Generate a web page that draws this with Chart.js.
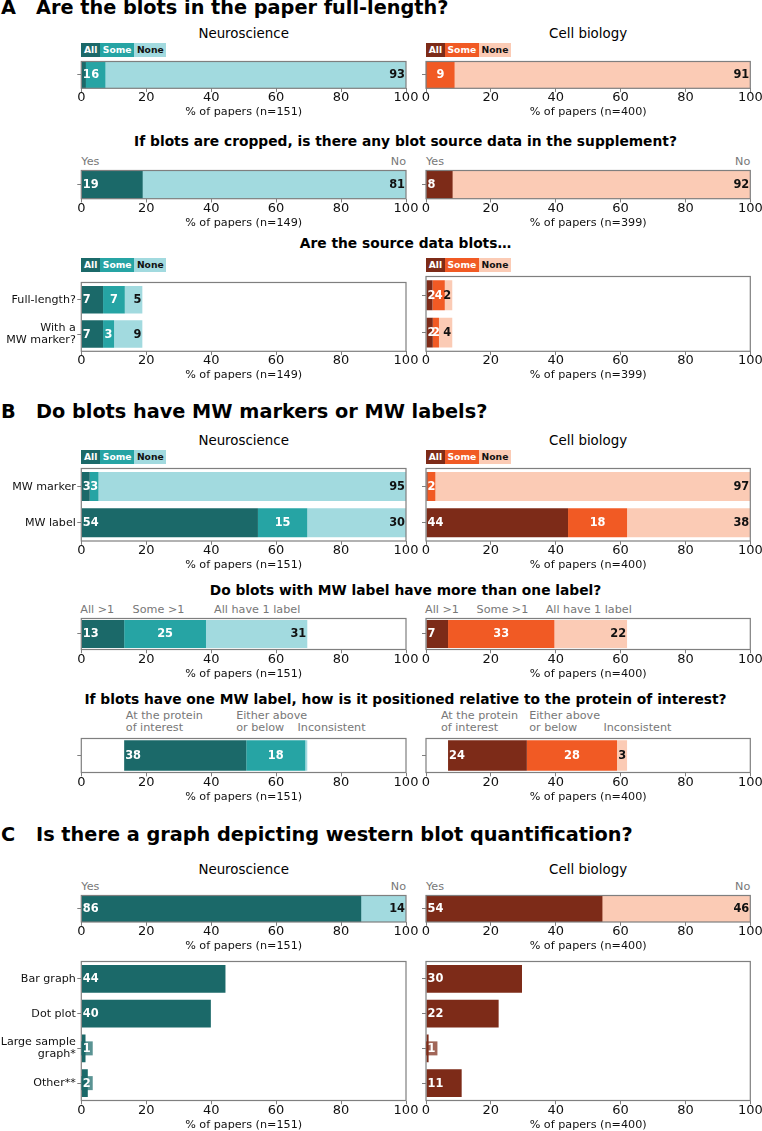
<!DOCTYPE html>
<html><head><meta charset="utf-8">
<script src="https://cdn.jsdelivr.net/npm/chart.js@4.4.1/dist/chart.umd.min.js"></script>
<style>
html,body{margin:0;padding:0;background:#fff;}
#page{position:relative;width:762px;height:1131px;overflow:hidden;font-family:"DejaVu Sans",sans-serif;}
.t{position:absolute;white-space:pre;line-height:1;}
canvas{position:absolute;}
.lg{position:absolute;display:flex;height:14.4px;}
.lg span{display:block;font-weight:bold;font-size:9.2px;line-height:14.4px;padding:0 2.7px;}
</style></head><body><div id="page"></div>
<script>
// ================= DATA =================
const groups = ['Neuroscience', 'Cell biology'];
const panelLetters = ['A', 'B', 'C'];
const panelTitles = ['Are the blots in the paper full-length?', 'Do blots have MW markers or MW labels?', 'Is there a graph depicting western blot quantification?'];
const subtitles = ['If blots are cropped, is there any blot source data in the supplement?', 'Are the source data blots\u2026', 'Do blots with MW label have more than one label?', 'If blots have one MW label, how is it positioned relative to the protein of interest?'];
const allSomeNone = ['All', 'Some', 'None'];
const yesNo = ['Yes', 'No'];
const labelCountCats = ['All >1', 'Some >1', 'All have 1 label'];
const labelPosCats = ['At the protein\nof interest', 'Either above\nor below', 'Inconsistent'];
const sourceRows = ['Full-length?', ['With a', 'MW marker?']];
const mwRows = ['MW marker', 'MW label'];
const graphTypes = ['Bar graph', 'Dot plot', ['Large sample', 'graph*'], 'Other**'];
const xTicks = [0, 20, 40, 60, 80, 100];
const nNeuro = [151, 149, 149, 151, 151, 151, 151, 151];
const nCell = [400, 399, 399, 400, 400, 400, 400, 400];

// Panel A
const neuroFullLength = [1.3, 6.0, 92.7];
const cellFullLength  = [0, 8.7, 91.3];
const neuroSupplement = [18.8, 81.2];
const cellSupplement  = [8.1, 91.9];
const neuroSourceAll  = [6.7, 6.7];
const neuroSourceSome = [6.7, 3.4];
const neuroSourceNone = [5.4, 8.7];
const cellSourceAll   = [2.0, 2.1];
const cellSourceSome  = [3.8, 1.9];
const cellSourceNone  = [2.3, 4.1];
// Panel B
const neuroMwAll  = [2.6, 54.4];
const neuroMwSome = [2.7, 15.2];
const neuroMwNone = [94.7, 30.4];
const cellMwAll   = [0.5, 43.8];
const cellMwSome  = [2.4, 18.2];
const cellMwNone  = [97.1, 38.0];
const neuroLabelCount = [13.2, 25.2, 31.2];
const cellLabelCount  = [6.8, 32.8, 22.4];
const neuroLabelPos = [37.6, 18.2, 0.6];
const cellLabelPos  = [24.3, 27.8, 3.1];
// Panel C
const neuroQuant = [86.1, 13.9];
const cellQuant  = [54.3, 45.7];
const neuroGraphType = [44.4, 39.9, 1.3, 2.0];
const cellGraphType  = [29.6, 22.4, 0.8, 11.0];

// annotation x positions (in % units)
const countLabelX = [[-0.3, 15.8, 40.9], [-0.3, 15.6, 36.9]];
const posLabelX = [[13.7, 47.7, 66.6], [4.6, 31.8, 54.7]];

// ================= STYLE =================
Chart.defaults.font.family = '"DejaVu Sans", sans-serif';
Chart.defaults.color = '#111';
const GRAY = '#7f7f7f';
const TEAL = [{bg:'#1b6969', fg:'#fff'}, {bg:'#26a4a4', fg:'#fff'}, {bg:'#a2dadf', fg:'#111'}];
const BROWN = [{bg:'#7d2b18', fg:'#fff'}, {bg:'#f15a24', fg:'#fff'}, {bg:'#fbcbb5', fg:'#111'}];
const PAL = [TEAL, BROWN];
const COLS = [{plotLeft:81.3, plotW:324.7, canvasLeft:0}, {plotLeft:426, plotW:324.3, canvasLeft:406}];
const page = document.getElementById('page');

function hexA(hex, a){
  const n = parseInt(hex.slice(1), 16);
  return `rgba(${(n>>16)&255},${(n>>8)&255},${n&255},${a})`;
}

const framePlugin = {
  id:'frame',
  afterDatasetsDraw(chart){
    const {left, top, right, bottom} = chart.chartArea;
    const c = chart.ctx; c.save();
    c.strokeStyle = GRAY; c.lineWidth = 1.2;
    c.strokeRect(left, top, right-left, bottom-top);
    c.restore();
  }
};

const valueLabels = {
  id:'valueLabels',
  afterDatasetsDraw(chart){
    const ctx = chart.ctx;
    const sets = chart.data.datasets;
    const labeled = sets.map((d,i)=>i).filter(i=>!sets[i].skipLabel);
    ctx.save();
    ctx.font = 'bold 11.4px "DejaVu Sans"';
    ctx.textBaseline = 'middle';
    labeled.forEach((di, k) => {
      const ds = sets[di];
      const meta = chart.getDatasetMeta(di);
      meta.data.forEach((bar, j) => {
        const v = ds.data[j];
        if (v < 0.7) return;
        const txt = String(Math.round(v));
        const x0 = Math.min(bar.base, bar.x), x1 = Math.max(bar.base, bar.x);
        let x, align;
        if (k === 0) { x = x0 + 1; align = 'left'; }
        else if (k === labeled.length - 1) { x = x1 - 1; align = 'right'; }
        else { x = (x0 + x1) / 2; align = 'center'; }
        const tw = ctx.measureText(txt).width;
        if (ds.boxSmall && tw + 2 > x1 - x0) {
          ctx.fillStyle = hexA(ds.backgroundColor, 0.72);
          ctx.fillRect(x - 1.5, bar.y - 7, tw + 3.5, 14);
        }
        ctx.fillStyle = ds.labelColor;
        ctx.textAlign = align;
        ctx.fillText(txt, x, bar.y + 0.5);
      });
    });
    ctx.restore();
  }
};

function makeChart(col, frameTop, frameBottom, rows, datasets, n, barPct){
  const c = COLS[col];
  const yW = c.plotLeft - c.canvasLeft;
  const width = Math.ceil(yW + c.plotW + 16);
  const canvasTop = Math.floor(frameTop) - 4;
  const padTop = frameTop - canvasTop;
  const frameH = frameBottom - frameTop;
  const XH = 32.5;
  const height = Math.ceil(padTop + frameH + XH + 1);
  const padBottom = height - padTop - frameH - XH;
  const cv = document.createElement('canvas');
  cv.width = width; cv.height = height;
  cv.style.left = c.canvasLeft + 'px'; cv.style.top = canvasTop + 'px';
  cv.style.width = width + 'px'; cv.style.height = height + 'px';
  page.appendChild(cv);
  new Chart(cv, {
    type:'bar',
    data:{labels: rows, datasets: datasets.map(d => Object.assign({barPercentage: barPct, categoryPercentage: 1, borderWidth: 0}, d))},
    options:{
      indexAxis:'y', responsive:false, animation:false, devicePixelRatio:1,
      layout:{padding:{top:padTop, right: width - yW - c.plotW, bottom: padBottom, left: 0}},
      plugins:{legend:{display:false}, tooltip:{enabled:false}},
      scales:{
        x:{type:'linear', min:xTicks[0], max:xTicks[xTicks.length-1], stacked:true,
          afterBuildTicks(s){ s.ticks = xTicks.map(v => ({value:v})); },
          ticks:{font:{size:13, lineHeight:1}, padding:-0.6, color:'#111', maxRotation:0, autoSkip:false},
          grid:{drawOnChartArea:false, drawTicks:true, tickLength:3.8, color:GRAY},
          border:{display:false},
          title:{display:true, text:`% of papers (n=${n})`, font:{size:11.2}, padding:{top:0, bottom:1.5}, color:'#111'},
          afterFit(s){ s.height = XH; }},
        y:{type:'category', stacked:true, offset:true,
          ticks:{font:{size:11.1, lineHeight:1.08}, padding:1.5, color:'#111', autoSkip:false},
          grid:{drawOnChartArea:false, drawTicks:true, tickLength:4, color:GRAY, offset:false},
          border:{display:false},
          afterFit(s){ s.width = yW; }}
      }
    },
    plugins:[framePlugin, valueLabels]
  });
}

function sets(seriesList, pal, idx){
  return seriesList.map((data, k) => ({data, backgroundColor: pal[idx[k]].bg, labelColor: pal[idx[k]].fg}));
}
function single(arr){ return arr.map(v => [v]); }
function rowsFor(col, rows){ return col === 0 ? rows : rows.map(() => ''); }

// ---------- HTML text ----------
function txt(s, x, y, o = {}){
  const d = document.createElement('div');
  d.className = 't';
  d.textContent = s;
  d.style.fontSize = (o.size || 11.2) + 'px';
  if (o.bold) d.style.fontWeight = 'bold';
  d.style.color = o.color || '#000';
  if (o.lh) d.style.lineHeight = o.lh + 'px';
  d.style.left = x + 'px';
  d.style.top = y + 'px';
  const tx = o.align === 'center' ? '-50%' : o.align === 'right' ? '-100%' : '0';
  const ty = o.vbottom ? '-100%' : '-50%';
  d.style.transform = `translate(${tx},${ty})`;
  page.appendChild(d);
}
function xp(col, v){ return COLS[col].plotLeft + v / 100 * COLS[col].plotW; }
function legend(col, frameTop, names, pal){
  const d = document.createElement('div'); d.className = 'lg';
  d.style.left = COLS[col].plotLeft + 'px'; d.style.top = (frameTop - 1 - 14.4) + 'px';
  names.forEach((nm, i) => {
    const s = document.createElement('span'); s.textContent = nm;
    s.style.background = pal[i].bg; s.style.color = pal[i].fg; d.appendChild(s);
  });
  page.appendChild(d);
}
function panelTitle(i, y){
  txt(panelLetters[i], 1, y, {size:19.3, bold:true});
  txt(panelTitles[i], 36, y, {size:19.3, bold:true});
}
function groupHeads(y){
  [0,1].forEach(col => txt(groups[col], COLS[col].plotLeft + COLS[col].plotW/2, y, {size:13.4, align:'center'}));
}
function subtitle(i, y){ txt(subtitles[i], 405.5, y, {size:13.8, bold:true, align:'center'}); }
function yesNoLabels(y){
  [0,1].forEach(col => {
    txt(yesNo[0], xp(col, 0), y, {color:'#777'});
    txt(yesNo[1], xp(col, 100), y, {color:'#777', align:'right'});
  });
}

// ================= PANEL A =================
panelTitle(0, 8);
groupHeads(34.3);
const fullLen = [neuroFullLength, cellFullLength];
[0,1].forEach(col => {
  legend(col, 58.3, allSomeNone, PAL[col]);
  makeChart(col, 58.3, 88.3, [''], sets(single(fullLen[col]), PAL[col], [0,1,2]), [nNeuro, nCell][col][0], 1);
});
subtitle(0, 141.8);
yesNoLabels(161.7);
const supp = [neuroSupplement, cellSupplement];
[0,1].forEach(col => makeChart(col, 167.5, 198.7, [''], sets(single(supp[col]), PAL[col], [0,2]), [nNeuro, nCell][col][1], 1));
subtitle(1, 243.6);
const srcSeries = [[neuroSourceAll, neuroSourceSome, neuroSourceNone], [cellSourceAll, cellSourceSome, cellSourceNone]];
[0,1].forEach(col => {
  legend(col, 273.3, allSomeNone, PAL[col]);
  makeChart(col, 273.3, 351.3, rowsFor(col, sourceRows), sets(srcSeries[col], PAL[col], [0,1,2]), [nNeuro, nCell][col][2], 0.8);
});

// ================= PANEL B =================
panelTitle(1, 412);
groupHeads(441);
const mwSeries = [[neuroMwAll, neuroMwSome, neuroMwNone], [cellMwAll, cellMwSome, cellMwNone]];
[0,1].forEach(col => {
  legend(col, 465.5, allSomeNone, PAL[col]);
  makeChart(col, 465.5, 541, rowsFor(col, mwRows), sets(mwSeries[col], PAL[col], [0,1,2]), [nNeuro, nCell][col][3], 0.8);
});
subtitle(2, 590.8);
const lc = [neuroLabelCount, cellLabelCount];
[0,1].forEach(col => {
  labelCountCats.forEach((s, i) => txt(s, xp(col, countLabelX[col][i]), 610, {color:'#777'}));
  makeChart(col, 615, 649.5, [''], sets(single(lc[col]), PAL[col], [0,1,2]), [nNeuro, nCell][col][4], 0.9);
});
subtitle(3, 700.3);
const lp = [neuroLabelPos, cellLabelPos];
[0,1].forEach(col => {
  labelPosCats.forEach((s, i) => txt(s, xp(col, posLabelX[col][i]), 727.7 + 6, {color:'#777', lh:12, vbottom:true}));
  const ds = [{data:[lc[col][0]], backgroundColor:'rgba(0,0,0,0)', skipLabel:true}].concat(sets(single(lp[col]), PAL[col], [0,1,2]));
  makeChart(col, 735, 772.5, [''], ds, [nNeuro, nCell][col][5], 0.9);
});

// ================= PANEL C =================
panelTitle(2, 834.5);
groupHeads(869.5);
yesNoLabels(886.7);
const quant = [neuroQuant, cellQuant];
[0,1].forEach(col => makeChart(col, 892.7, 922, [''], sets(single(quant[col]), PAL[col], [0,2]), [nNeuro, nCell][col][6], 1));
const gt = [neuroGraphType, cellGraphType];
[0,1].forEach(col => {
  makeChart(col, 958.3, 1100.5, rowsFor(col, graphTypes), [{data: gt[col], backgroundColor: PAL[col][0].bg, labelColor:'#fff', boxSmall:true}], [nNeuro, nCell][col][7], 0.8);
});
</script></body></html>
